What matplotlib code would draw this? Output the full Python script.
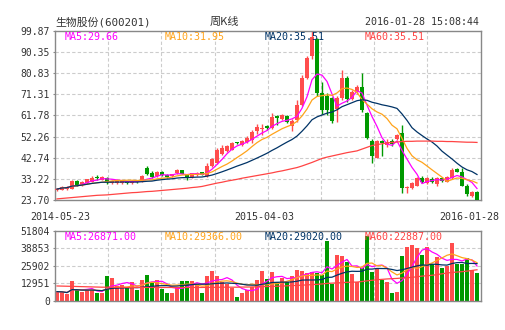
import numpy as np
import pandas as pd
import matplotlib
matplotlib.use("Agg")
import matplotlib.pyplot as plt

# ---------------- data ----------------
title = "生物股份(600201)"
period_title = "周K线"
timestamp = "2016-01-28 15:08:44"
date_labels = ["2014-05-23", "2015-04-03", "2016-01-28"]
price_ticks = [23.70, 33.22, 42.74, 52.26, 61.78, 71.31, 80.83, 90.35, 99.87]
vol_ticks = [0, 12951, 25902, 38853, 51804]
ma_labels_price = ["MA5:29.66", "MA10:31.95", "MA20:35.51", "MA60:35.51"]
ma_labels_vol = ["MA5:26871.00", "MA10:29366.00", "MA20:29020.00", "MA60:22887.00"]

opens = [28.0, 28.4, 28.8, 28.8, 32.1, 30.6, 31.3, 32.0, 33.9, 32.7,
         33.8, 31.3, 31.4, 31.5, 32.0, 31.4, 32.2, 32.0, 38.3, 36.0,
         34.7, 36.4, 35.0, 34.3, 35.7, 37.0, 35.1, 33.9, 35.1, 36.1,
         34.4, 38.9, 40.4, 44.5, 45.8, 46.4, 49.6, 48.6, 49.8, 50.8,
         54.6, 55.6, 57.0, 56.1, 61.4, 60.3, 61.4, 57.0, 59.8, 66.6,
         78.6, 88.5, 96.0, 71.9, 70.4, 69.6, 64.8, 69.6, 78.6, 69.3,
         72.3, 74.6, 62.8, 50.1, 42.7, 50.1, 48.5, 50.2, 51.3, 53.7,
         29.0, 29.3, 30.2, 33.5, 31.5, 33.2, 30.7, 33.5, 32.0, 33.5,
         37.5, 36.2, 30.2, 25.7, 27.5]
highs = [28.9, 30.0, 29.9, 32.5, 32.6, 32.4, 33.3, 34.3, 34.8, 34.5,
         34.0, 32.5, 32.6, 32.4, 32.4, 32.5, 32.6, 35.0, 38.9, 36.8,
         36.9, 36.9, 35.3, 35.6, 37.6, 37.2, 35.3, 36.0, 36.2, 36.4,
         40.3, 42.5, 47.0, 48.5, 48.5, 49.8, 49.9, 50.9, 52.4, 55.0,
         57.8, 58.0, 57.5, 62.8, 62.0, 62.3, 62.0, 60.0, 68.8, 80.0,
         88.5, 99.87, 96.5, 76.9, 71.9, 70.0, 70.5, 82.3, 79.5, 73.0,
         75.5, 81.0, 63.5, 51.0, 50.5, 50.5, 51.0, 51.0, 53.5, 57.3,
         30.2, 31.6, 33.9, 34.5, 34.0, 34.0, 34.0, 34.2, 34.5, 38.0,
         38.2, 38.0, 30.8, 27.8, 27.8]
lows = [27.6, 28.0, 28.4, 28.5, 30.0, 30.2, 30.9, 31.7, 32.8, 32.5,
        31.0, 30.8, 31.0, 31.1, 31.0, 31.0, 31.2, 31.8, 35.0, 33.4,
        34.2, 34.6, 33.8, 34.0, 35.3, 35.2, 32.9, 33.5, 34.6, 34.8,
        34.0, 38.5, 40.0, 44.0, 45.3, 46.0, 49.0, 48.2, 49.4, 49.3,
        53.5, 53.0, 55.2, 55.8, 57.3, 59.8, 58.2, 54.6, 59.0, 66.0,
        78.0, 87.0, 70.5, 62.5, 62.0, 58.3, 58.8, 68.5, 68.0, 68.5,
        71.5, 63.5, 51.0, 40.4, 42.5, 43.5, 47.5, 48.0, 50.8, 26.7,
        26.7, 28.8, 29.8, 31.5, 31.0, 31.5, 30.0, 31.8, 31.6, 33.0,
        36.2, 29.8, 25.5, 25.2, 23.7]
closes = [28.6, 29.6, 29.5, 32.2, 30.6, 32.0, 33.0, 33.8, 33.6, 34.0,
          31.6, 32.2, 32.2, 32.1, 31.5, 32.1, 31.7, 34.6, 35.3, 34.0,
          36.4, 35.0, 34.1, 35.2, 37.1, 35.6, 33.6, 35.8, 35.8, 35.1,
          39.0, 42.1, 46.3, 47.3, 47.9, 49.3, 49.3, 50.4, 51.6, 54.3,
          56.6, 56.3, 56.0, 60.9, 60.4, 61.8, 58.7, 59.2, 66.6, 78.6,
          87.6, 97.0, 72.0, 64.3, 64.3, 59.4, 69.6, 78.6, 69.3, 72.3,
          74.6, 64.3, 51.6, 43.4, 50.1, 49.2, 50.0, 48.8, 53.1, 29.0,
          29.7, 31.2, 33.5, 32.0, 33.5, 32.0, 33.5, 32.3, 34.0, 37.3,
          36.5, 30.2, 26.4, 27.5, 23.7]
volumes = [6700, 6400, 5000, 14600, 7900, 6500, 7900, 8200, 5600, 5700,
           18300, 17000, 10900, 11600, 9300, 14100, 7900, 15300, 19000, 13300,
           15300, 9000, 5700, 5700, 10400, 14600, 14600, 14600, 12400, 5400,
           18400, 22000, 18400, 14100, 12400, 9700, 3000, 6000, 7900, 10400,
           15300, 22300, 16000, 21000, 14100, 16600, 14100, 18300, 22700, 22000,
           20800, 21000, 20500, 19000, 44200, 12600, 34000, 32800, 29000, 19600,
           13500, 24000, 47600, 21400, 23500, 15300, 13500, 5600, 6600, 33200,
           39800, 41200, 38800, 33900, 39400, 27000, 32600, 24300, 26000, 43000,
           26800, 27000, 31500, 22700, 20500]
ma60_price = [24.2, 24.4, 24.6, 24.8, 25.0, 25.2, 25.4, 25.6, 25.8, 25.9,
              26.0, 26.2, 26.4, 26.6, 26.8, 27.0, 27.1, 27.3, 27.5, 27.6,
              27.8, 28.0, 28.2, 28.4, 28.6, 28.8, 29.0, 29.3, 29.5, 29.8,
              30.3, 30.8, 31.3, 31.7, 32.2, 32.6, 33.0, 33.5, 33.9, 34.3,
              34.7, 35.1, 35.5, 35.9, 36.4, 36.8, 37.3, 37.8, 38.3, 39.0,
              39.8, 40.6, 41.5, 42.4, 43.0, 43.5, 44.0, 44.5, 45.0, 45.4,
              45.8, 46.6, 47.4, 48.2, 48.6, 49.0, 49.4, 49.6, 49.8, 50.0,
              50.1, 50.1, 50.2, 50.2, 50.2, 50.2, 50.1, 50.1, 50.0, 50.0,
              49.9, 49.8, 49.7, 49.7, 49.6]
ma60_vol = [10900, 10800, 10700, 10600, 10500, 10400, 10300, 10200, 10100, 10000,
            10000, 9900, 9900, 9900, 9800, 9800, 9800, 9800, 9800, 9800,
            9800, 9800, 9800, 9800, 9800, 9800, 9800, 9800, 9800, 9800,
            9900, 9900, 9900, 10000, 10000, 10000, 10000, 10100, 10100, 10200,
            10300, 10400, 10500, 10600, 10700, 10800, 11000, 11200, 11300, 11500,
            11700, 11900, 12100, 12400, 12800, 13000, 13200, 13400, 13600, 13700,
            13800, 14200, 14700, 15100, 15500, 15800, 16100, 16300, 16500, 16800,
            17000, 17300, 17700, 18200, 18500, 18800, 19300, 19900, 20500, 20900,
            21200, 21500, 21900, 22400, 22887]

# ---------------- style ----------------
RED = "#ff4d4d"
GREEN = "#009900"
C_MA5 = "#ff00ff"
C_MA10 = "#ffa31a"
C_MA20 = "#003366"
C_MA60 = "#ff4444"
GRID = "#cccccc"
FRAME = "#888888"
TXT = "#333333"
MONO = ["DejaVu Sans Mono", "Noto Sans CJK SC"]

W, H = 505, 330


def fx(px):
    return px / W


def fy(py):
    return 1 - py / H


o = np.array(opens)
h = np.array(highs)
l = np.array(lows)
c = np.array(closes)
v = np.array(volumes)
x = np.arange(len(c))
up = c >= o
colors = np.where(up, RED, GREEN)

cs = pd.Series(c)
vs = pd.Series(v, dtype=float)
ma_p = [cs.rolling(n, min_periods=1).mean().values for n in (5, 10, 20)] + [np.array(ma60_price)]
ma_v = [vs.rolling(n, min_periods=1).mean().values for n in (5, 10, 20)] + [np.array(ma60_vol)]
ma_colors = [C_MA5, C_MA10, C_MA20, C_MA60]

fig = plt.figure(figsize=(W / 100, H / 100), dpi=100)
fig.patch.set_facecolor("white")

L, R = 55, 480.7
ax = fig.add_axes([fx(L), fy(200), (R - L) / W, (200 - 30.7) / H])
axv = fig.add_axes([fx(L), fy(300.7), (R - L) / W, (300.7 - 230.7) / H])

xlim = (-0.4, 84.74)

for a, ticks in ((ax, price_ticks), (axv, vol_ticks)):
    a.set_xlim(*xlim)
    a.set_ylim(ticks[0], ticks[-1])
    for s in a.spines.values():
        s.set_color(FRAME)
        s.set_linewidth(1.0)
    for t in ticks[1:-1]:
        a.axhline(t, color=GRID, lw=0.8, dashes=(3, 2), zorder=0)
    for k in range(1, 8):
        a.axvline(xlim[0] + (xlim[1] - xlim[0]) * k / 8, color=GRID, lw=0.8, dashes=(3, 2), zorder=0)
    a.set_xticks([])
    a.set_yticks(ticks)
    a.tick_params(axis="y", length=1.5, width=0.8, color=FRAME, labelsize=7,
                  labelcolor=TXT, pad=2.0)
    for lab in a.get_yticklabels():
        lab.set_family(MONO)

ax.set_yticklabels([f"{t:.2f}" for t in price_ticks])
axv.set_yticklabels([f"{t:d}" for t in vol_ticks])

# candles
ax.vlines(x, l, h, colors=colors, linewidth=1.0, zorder=2)
body_bottom = np.minimum(o, c)
body_h = np.maximum(np.abs(c - o), 0.3)
ax.bar(x, body_h, bottom=body_bottom, width=0.7, color=colors, linewidth=0, zorder=3)
for m, col in zip(ma_p, ma_colors):
    ax.plot(x, m, color=col, lw=0.9, zorder=4)

# volume
axv.bar(x, v, width=0.75, color=colors, linewidth=0, zorder=2)
for m, col in zip(ma_v, ma_colors):
    axv.plot(x, m, color=col, lw=0.9, zorder=4)

# texts
fig.text(fx(55), fy(22), title, family=MONO, fontsize=7.8, color=TXT, va="center", ha="left")
fig.text(fx(224), fy(22), period_title, family=["Noto Sans CJK SC"], fontsize=8, color=TXT,
         va="center", ha="center")
fig.text(fx(479), fy(22), timestamp, family=MONO, fontsize=7.2, color=TXT, va="center", ha="right")

for lab, xp, col in zip(ma_labels_price, (65, 165, 265, 365), ma_colors):
    fig.text(fx(xp), fy(36.7), lab, family=MONO, fontsize=7.2, color=col, va="center", ha="left",
             zorder=10)
for lab, xp, col in zip(ma_labels_vol, (65, 165, 265, 365), ma_colors):
    fig.text(fx(xp), fy(236.7), lab, family=MONO, fontsize=7.2, color=col, va="center", ha="left",
             zorder=10)

fig.text(fx(30), fy(216.7), date_labels[0], family=MONO, fontsize=7.2, color=TXT, va="center", ha="left")
fig.text(fx(264.5), fy(216.7), date_labels[1], family=MONO, fontsize=7.2, color=TXT, va="center", ha="center")
fig.text(fx(499), fy(216.7), date_labels[2], family=MONO, fontsize=7.2, color=TXT, va="center", ha="right")

fig.savefig("out.png", dpi=100, facecolor="white")
